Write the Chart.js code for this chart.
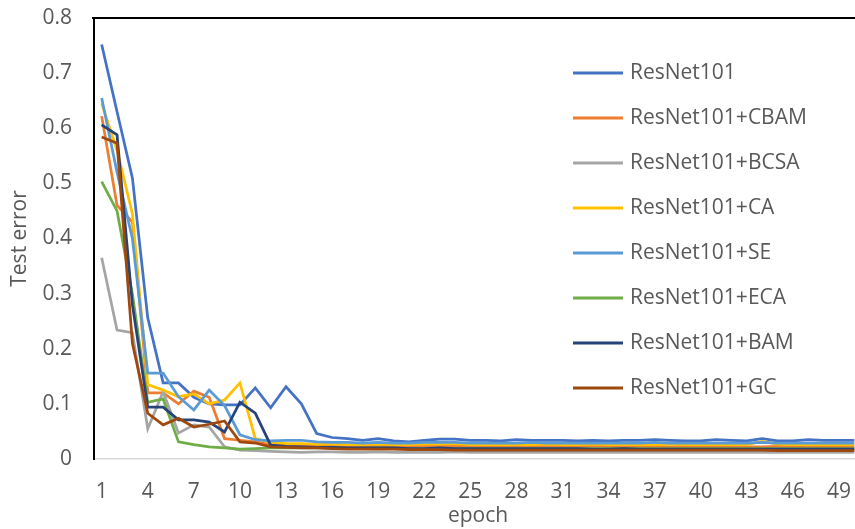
<!DOCTYPE html>
<html>
<head>
<meta charset="utf-8">
<script src="https://cdn.jsdelivr.net/npm/chart.js@4.4.1/dist/chart.umd.min.js"></script>
<style>
  html, body { margin: 0; padding: 0; background: #fff; overflow: hidden; }
  #wrap { width: 862px; height: 529px; position: relative; }
</style>
</head>
<body>
<div id="wrap"><canvas id="js_errorChart"></canvas></div>
<script>
/*  eslint-disable no-undef */
const epochs = Array.from({ length: 50 }, (_, i) => String(i + 1));

const seriesNames = [
  'ResNet101',
  'ResNet101+CBAM',
  'ResNet101+BCSA',
  'ResNet101+CA',
  'ResNet101+SE',
  'ResNet101+ECA',
  'ResNet101+BAM',
  'ResNet101+GC',
];

const colors = ['#4472C4', '#ED7D31', '#A5A5A5', '#FFC000', '#5B9BD5', '#70AD47', '#264478', '#9E480E'];

const resnet = [
  0.752, 0.630, 0.510, 0.256, 0.138, 0.138, 0.112, 0.100, 0.098, 0.098,
  0.129, 0.093, 0.131, 0.100, 0.046, 0.039, 0.037, 0.034, 0.037, 0.033,
  0.031, 0.034, 0.036, 0.036, 0.034, 0.034, 0.033, 0.035, 0.034, 0.034,
  0.034, 0.033, 0.034, 0.033, 0.034, 0.034, 0.035, 0.034, 0.033, 0.033,
  0.035, 0.034, 0.033, 0.037, 0.033, 0.033, 0.035, 0.034, 0.034, 0.034,
];
const cbam = [
  0.622, 0.460, 0.430, 0.120, 0.120, 0.100, 0.123, 0.112, 0.037, 0.034,
  0.031, 0.026, 0.026, 0.025, 0.024, 0.024, 0.024, 0.023, 0.024, 0.023,
  0.023, 0.024, 0.024, 0.023, 0.023, 0.024, 0.023, 0.023, 0.024, 0.023,
  0.023, 0.023, 0.024, 0.023, 0.022, 0.023, 0.023, 0.022, 0.023, 0.022,
  0.022, 0.023, 0.022, 0.022, 0.023, 0.022, 0.022, 0.022, 0.022, 0.022,
];
const bcsa = [
  0.365, 0.234, 0.229, 0.055, 0.122, 0.047, 0.062, 0.058, 0.022, 0.016,
  0.015, 0.014, 0.013, 0.012, 0.013, 0.013, 0.012, 0.012, 0.013, 0.012,
  0.012, 0.012, 0.012, 0.013, 0.012, 0.012, 0.012, 0.012, 0.012, 0.012,
  0.012, 0.012, 0.012, 0.012, 0.012, 0.012, 0.012, 0.012, 0.012, 0.012,
  0.012, 0.012, 0.012, 0.012, 0.012, 0.012, 0.012, 0.012, 0.012, 0.012,
];
const ca = [
  0.645, 0.560, 0.445, 0.135, 0.125, 0.113, 0.118, 0.100, 0.107, 0.138,
  0.037, 0.030, 0.028, 0.028, 0.027, 0.027, 0.026, 0.026, 0.027, 0.026,
  0.026, 0.027, 0.027, 0.028, 0.026, 0.026, 0.026, 0.026, 0.026, 0.027,
  0.026, 0.026, 0.027, 0.026, 0.026, 0.026, 0.026, 0.027, 0.026, 0.026,
  0.026, 0.026, 0.026, 0.032, 0.027, 0.026, 0.026, 0.026, 0.026, 0.026,
];
const se = [
  0.655, 0.520, 0.400, 0.156, 0.156, 0.113, 0.089, 0.125, 0.097, 0.044,
  0.035, 0.033, 0.034, 0.034, 0.031, 0.030, 0.030, 0.029, 0.030, 0.029,
  0.029, 0.030, 0.030, 0.030, 0.029, 0.029, 0.029, 0.029, 0.030, 0.029,
  0.029, 0.029, 0.029, 0.029, 0.029, 0.029, 0.030, 0.029, 0.029, 0.029,
  0.029, 0.029, 0.029, 0.030, 0.029, 0.029, 0.029, 0.029, 0.029, 0.029,
];
const eca = [
  0.503, 0.450, 0.300, 0.103, 0.109, 0.031, 0.026, 0.022, 0.020, 0.018,
  0.019, 0.020, 0.020, 0.020, 0.020, 0.020, 0.019, 0.019, 0.020, 0.019,
  0.019, 0.019, 0.019, 0.019, 0.019, 0.019, 0.019, 0.019, 0.019, 0.019,
  0.019, 0.019, 0.019, 0.019, 0.019, 0.019, 0.019, 0.019, 0.019, 0.019,
  0.019, 0.019, 0.019, 0.019, 0.019, 0.019, 0.019, 0.019, 0.019, 0.019,
];
const bam = [
  0.606, 0.588, 0.280, 0.094, 0.094, 0.071, 0.071, 0.067, 0.049, 0.103,
  0.083, 0.025, 0.023, 0.022, 0.021, 0.021, 0.020, 0.020, 0.020, 0.020,
  0.019, 0.019, 0.020, 0.019, 0.019, 0.019, 0.019, 0.019, 0.019, 0.019,
  0.019, 0.019, 0.018, 0.018, 0.019, 0.018, 0.018, 0.018, 0.018, 0.018,
  0.018, 0.018, 0.018, 0.018, 0.018, 0.018, 0.018, 0.018, 0.018, 0.018,
];
const gc = [
  0.584, 0.573, 0.210, 0.083, 0.062, 0.074, 0.058, 0.063, 0.069, 0.031,
  0.029, 0.022, 0.021, 0.020, 0.020, 0.019, 0.018, 0.018, 0.018, 0.018,
  0.017, 0.017, 0.017, 0.016, 0.016, 0.016, 0.016, 0.016, 0.016, 0.016,
  0.016, 0.016, 0.016, 0.016, 0.016, 0.016, 0.016, 0.016, 0.016, 0.016,
  0.016, 0.016, 0.016, 0.016, 0.015, 0.015, 0.015, 0.015, 0.015, 0.015,
];

const values = [resnet, cbam, bcsa, ca, se, eca, bam, gc];
const yTicks = [0, 0.1, 0.2, 0.3, 0.4, 0.5, 0.6, 0.7, 0.8];

const textColor = '#595959';
const fontFamily = '"Open Sans", sans-serif';
const fontSize = 21;

// Excel-style legend inside the plot area, plus the black top edge of the frame
const insideLegend = {
  id: 'insideLegend',
  afterDraw(chart) {
    const { ctx, chartArea } = chart;
    ctx.save();
    ctx.fillStyle = '#000';
    ctx.fillRect(chartArea.left - 2, chartArea.top - 1, chartArea.right - chartArea.left + 2, 2);

    const x0 = chartArea.left + 479;
    const y0 = chartArea.top + 55;
    ctx.font = `${fontSize}px ${fontFamily}`;
    ctx.textBaseline = 'middle';
    ctx.textAlign = 'left';
    chart.data.datasets.forEach((ds, i) => {
      const y = y0 + i * 45;
      ctx.strokeStyle = ds.borderColor;
      ctx.lineWidth = 3;
      ctx.beginPath();
      ctx.moveTo(x0, y);
      ctx.lineTo(x0 + 50, y);
      ctx.stroke();
      ctx.fillStyle = textColor;
      ctx.fillText(ds.label, x0 + 57, y);
    });
    ctx.restore();
  },
};

document.addEventListener('DOMContentLoaded', () => {
  const ctx = document.getElementById('js_errorChart');

  const datasets = seriesNames.map((name, i) => ({
    label: name,
    data: values[i],
    borderColor: colors[i],
    backgroundColor: colors[i],
    borderWidth: 2.75,
    pointRadius: 0,
    tension: 0,
    order: seriesNames.length - i,
  }));

  new Chart(ctx, {
    type: 'line',
    data: { labels: epochs, datasets },
    plugins: [insideLegend],
    options: {
      responsive: true,
      maintainAspectRatio: false,
      animation: false,
      layout: { padding: { top: 18, right: 0, left: 0, bottom: 0 } },
      plugins: {
        legend: { display: false },
        tooltip: { enabled: false },
      },
      scales: {
        x: {
          offset: true,
          grid: { display: false, drawTicks: false },
          border: { color: '#D9D9D9', width: 1.5 },
          ticks: {
            autoSkip: false,
            maxRotation: 0,
            color: textColor,
            font: { size: fontSize, family: fontFamily },
            padding: 20,
            callback(val, idx) {
              return idx % 3 === 0 ? epochs[idx] : '';
            },
          },
          title: {
            display: true,
            text: 'epoch',
            color: textColor,
            font: { size: fontSize, family: fontFamily },
            padding: { top: 0, bottom: 0 },
          },
          afterFit(scale) {
            scale.height = 70;
            scale.paddingLeft = 0;
            scale.paddingRight = 0;
          },
        },
        y: {
          min: 0,
          max: 0.8,
          grid: { display: false, drawTicks: false },
          border: { color: '#000', width: 2 },
          afterBuildTicks(scale) {
            scale.ticks = yTicks.map((v) => ({ value: v }));
          },
          ticks: {
            color: textColor,
            font: { size: fontSize, family: fontFamily },
            padding: 22,
            callback: (v) => (v === 0 ? '0' : v.toFixed(1)),
          },
          title: {
            display: true,
            text: 'Test error',
            color: textColor,
            font: { size: fontSize, family: fontFamily },
            padding: { top: 7, bottom: 0 },
          },
          afterFit(scale) {
            scale.width = 94;
            scale.paddingTop = 0;
            scale.paddingBottom = 0;
          },
        },
      },
    },
  });
});
</script>
</body>
</html>
